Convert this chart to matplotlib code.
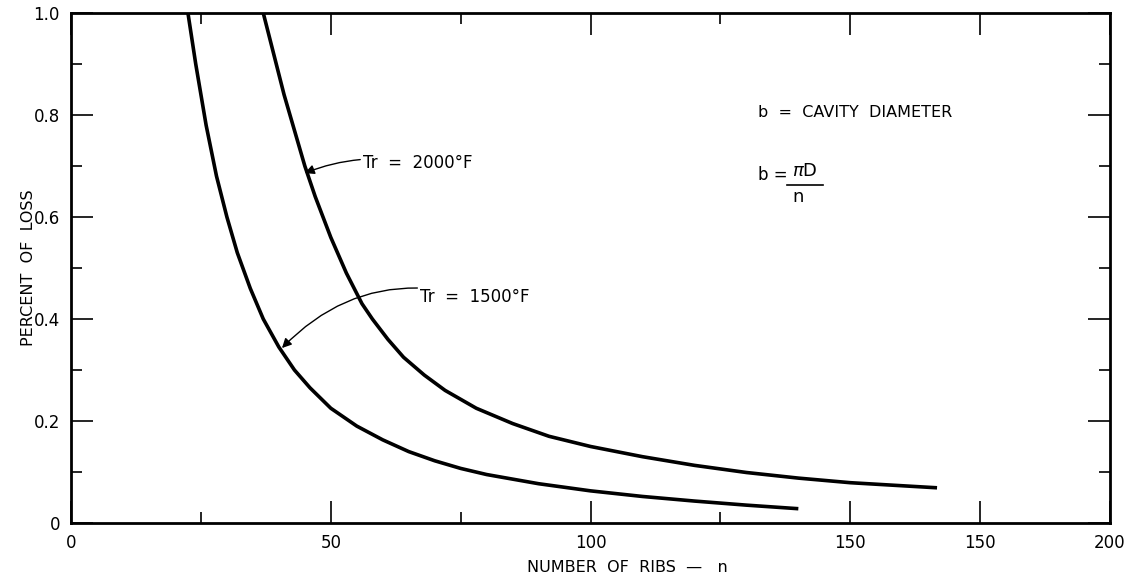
"""Percent of loss vs number of ribs, for two radiator temperatures."""

import matplotlib
matplotlib.use("Agg")
import matplotlib.pyplot as plt

# ---- data ----
n_1500 = [22.5, 24, 26, 28, 30, 32, 34.5, 37, 40, 43, 46, 50, 55, 60, 65, 70, 75,
          80, 90, 100, 110, 120, 130, 140]
loss_1500 = [1.0, 0.90, 0.78, 0.68, 0.60, 0.53, 0.46, 0.40, 0.345, 0.30, 0.265, 0.225,
             0.19, 0.163, 0.14, 0.122, 0.107, 0.095, 0.077, 0.063, 0.052, 0.043,
             0.035, 0.028]

n_2000 = [37, 39, 41, 43, 45, 47, 50, 53, 56, 58, 61, 64, 68, 72, 78, 85, 92, 100,
          110, 120, 130, 140, 150, 160, 166.7]
loss_2000 = [1.0, 0.92, 0.84, 0.77, 0.70, 0.64, 0.56, 0.49, 0.43, 0.40, 0.36, 0.325,
             0.29, 0.26, 0.225, 0.195, 0.17, 0.15, 0.13, 0.113, 0.099, 0.088, 0.079,
             0.073, 0.069]

x_ticks = [0, 50, 100, 150, 175, 200]
x_tick_labels = ["0", "50", "100", "150", "150", "200"]
y_ticks = [0, 0.2, 0.4, 0.6, 0.8, 1.0]
y_tick_labels = ["0", "0.2", "0.4", "0.6", "0.8", "1.0"]

plt.rcParams.update({"font.family": "DejaVu Sans", "font.size": 12})

fig = plt.figure(figsize=(11.35, 5.8), dpi=100)
ax = fig.add_axes([0.0626, 0.0983, 0.9154, 0.8793])

for n, loss in ((n_1500, loss_1500), (n_2000, loss_2000)):
    ax.plot(n, loss, color="black", lw=2.6, solid_capstyle="butt",
            solid_joinstyle="round")

ax.set_xlim(0, 200)
ax.set_ylim(0, 1.0)

ax.set_xticks(x_ticks)
ax.set_xticklabels(x_tick_labels)
ax.set_xticks([25, 75, 125], minor=True)
ax.set_yticks(y_ticks)
ax.set_yticklabels(y_tick_labels)
ax.set_yticks([0.1, 0.3, 0.5, 0.7, 0.9], minor=True)

ax.tick_params(which="both", direction="in", top=True, right=True, width=1.2, pad=8)
ax.tick_params(which="major", length=16)
ax.tick_params(which="minor", length=8)
ax.tick_params(axis="x", which="major", pad=8)
for s in ax.spines.values():
    s.set_linewidth(2.0)

ax.set_xlabel("NUMBER  OF  RIBS  \u2014   n", fontsize=11.5, labelpad=6, x=0.535)
ax.set_ylabel("PERCENT  OF  LOSS", fontsize=11.5, labelpad=-2)

# curve labels with arrows
ax.annotate("Tr  =  2000\u00b0F", xy=(45.0, 0.686), xytext=(56.2, 0.706),
            ha="left", va="center", fontsize=12,
            arrowprops=dict(arrowstyle="-|>", color="black", lw=1.0,
                            mutation_scale=14, shrinkA=0, shrinkB=0,
                            connectionstyle="arc3,rad=0.15"))
ax.annotate("Tr  =  1500\u00b0F", xy=(40.6, 0.343), xytext=(67.2, 0.443),
            ha="left", va="center", fontsize=12,
            arrowprops=dict(arrowstyle="-|>", color="black", lw=1.0,
                            mutation_scale=14, shrinkA=0, shrinkB=0,
                            connectionstyle="arc3,rad=0.3"))

# definitions (no frame)
ax.text(132.2, 0.804, "b  =  CAVITY  DIAMETER", ha="left", va="center", fontsize=11.5)
ax.text(132.2, 0.682, "b =", ha="left", va="center", fontsize=12)
ax.text(141.3, 0.690, r"$\pi\mathrm{D}$", ha="center", va="center", fontsize=13)
ax.plot([137.8, 144.8], [0.663, 0.663], color="black", lw=1.2)
ax.text(139.9, 0.640, r"$\mathrm{n}$", ha="center", va="center", fontsize=13)

fig.savefig("out.png", dpi=100, facecolor="white")
